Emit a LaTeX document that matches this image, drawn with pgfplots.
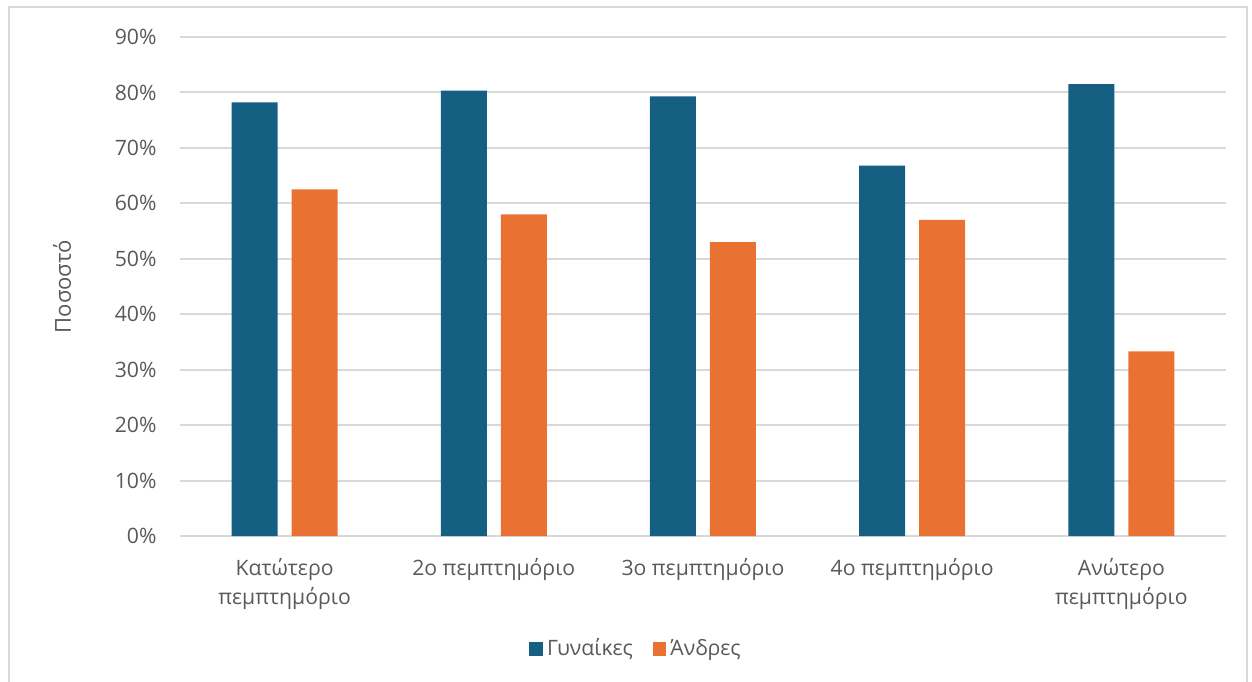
\documentclass[border=0pt]{standalone}
\usepackage{fontspec}
\setmainfont{Open Sans}
\usepackage{pgfplots}
\pgfplotsset{compat=1.18}
\definecolor{cw}{HTML}{156082}
\definecolor{cm}{HTML}{E97132}
\definecolor{txt}{HTML}{595959}
\definecolor{grd}{HTML}{D9D9D9}
\begin{document}
\fontsize{10.6bp}{13bp}\selectfont
\begin{tikzpicture}
\begin{axis}[
  scale only axis,
  width=523bp, height=249.5bp,
  ybar=7bp, bar width=23bp,
  xmin=-0.5, xmax=4.5,
  ymin=0, ymax=90,
  ytick={0,10,...,90},
  yticklabel={\pgfmathprintnumber{\tick}\%},
  /pgf/number format/assume math mode=true,
  xtick=data,
  xticklabels={{Κατώτερο\\πεμπτημόριο},{2ο πεμπτημόριο},{3ο πεμπτημόριο},{4ο πεμπτημόριο},{Ανώτερο\\πεμπτημόριο}},
  xticklabel style={align=center, text=txt, font=\fontsize{10.6bp}{14.5bp}\selectfont, yshift=-3bp},
  yticklabel style={text=txt, font=\fontsize{10.6bp}{13bp}\selectfont, xshift=-8bp},
  ymajorgrids,
  grid style={grd, line width=1bp},
  axis x line*=bottom,
  axis y line*=left,
  x axis line style={draw=grd, line width=1bp, -},
  y axis line style={draw=none},
  ytick style={draw=none}, xtick style={draw=none},
  ylabel={Ποσοστό},
  ylabel style={text=txt, font=\fontsize{11bp}{13bp}\selectfont, at={(axis description cs:-0.1128,0.5)}, anchor=center},
  legend style={draw=none, fill=none, at={(axis description cs:0.437,-0.2265)}, anchor=center, legend columns=2, font=\fontsize{10.6bp}{13bp}\selectfont, text=txt, /tikz/every even column/.append style={column sep=8bp}},
  legend image code/.code={\fill[#1] (0bp,-3.4bp) rectangle (6.8bp,3.4bp);},
  enlarge x limits=false,
  clip=false,
]
\addplot[fill=cw, draw=none] coordinates {(0,78.2) (1,80.35) (2,79.3) (3,66.8) (4,81.5)};
\addplot[fill=cm, draw=none] coordinates {(0,62.5) (1,58.0) (2,53.0) (3,57.0) (4,33.3)};
\legend{Γυναίκες,Άνδρες}
\end{axis}
\draw[grd, line width=0.75bp] (-85.5bp,-73bp) -- (-85.5bp,264.4bp) -- (533.5bp,264.4bp) -- (533.5bp,-73bp);
\pgfresetboundingbox
\path[use as bounding box] (-90bp,-73bp) rectangle (536bp,268bp);
\end{tikzpicture}
\end{document}
